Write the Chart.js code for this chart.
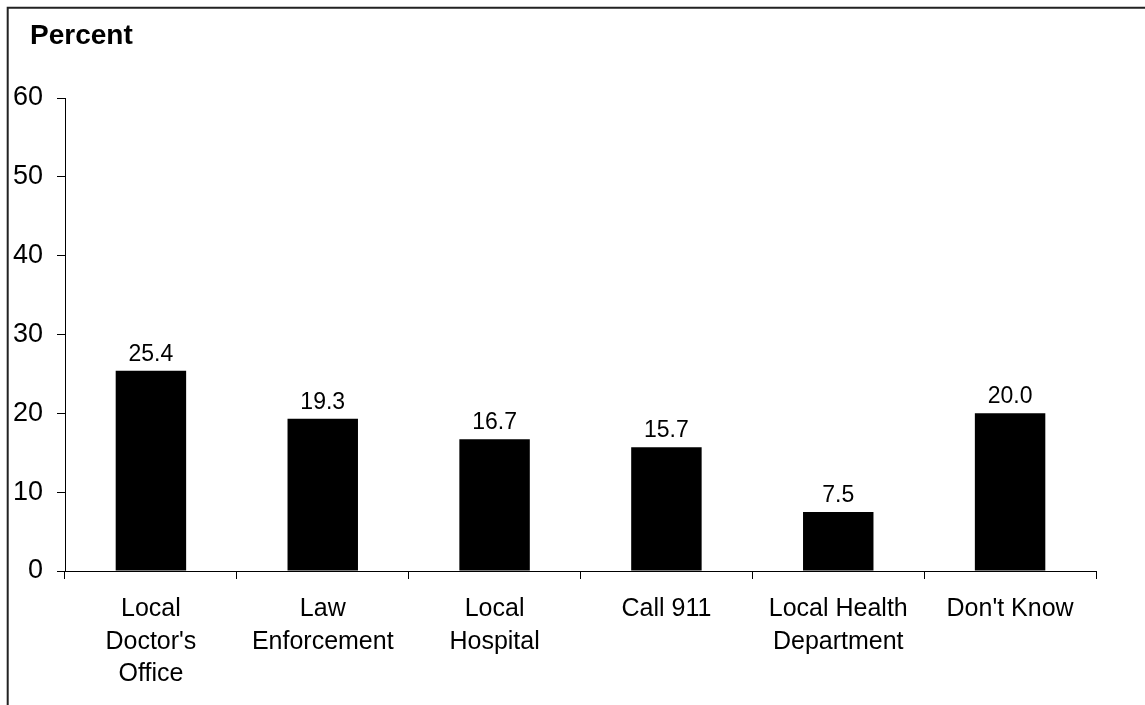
<!DOCTYPE html>
<html>
<head>
<meta charset="utf-8">
<script src="https://cdn.jsdelivr.net/npm/chart.js@4"></script>
<style>
  html, body { margin: 0; padding: 0; background: #fff; }
  #wrap { position: relative; width: 1145px; height: 705px; }
</style>
</head>
<body>
<div id="wrap"><canvas id="c" width="1145" height="705"></canvas></div>
<script>
const categories = [
  ["Local", "Doctor's", "Office"],
  ["Law", "Enforcement"],
  ["Local", "Hospital"],
  ["Call 911"],
  ["Local Health", "Department"],
  ["Don't Know"]
];
const values = [25.4, 19.3, 16.7, 15.7, 7.5, 20.0];
const yTicks = [0, 10, 20, 30, 40, 50, 60];
const yTitle = "Percent";

const FONT = "'Liberation Sans', Arial, sans-serif";

const framePlugin = {
  id: 'frame',
  afterDraw(chart) {
    const ctx = chart.ctx;
    ctx.save();
    ctx.strokeStyle = '#222';
    ctx.lineWidth = 2;
    ctx.beginPath();
    ctx.moveTo(7.7, 705);
    ctx.lineTo(7.7, 7.7);
    ctx.lineTo(1145, 7.7);
    ctx.stroke();
    ctx.fillStyle = '#000';
    ctx.font = "bold 28px " + FONT;
    ctx.textAlign = 'left';
    ctx.textBaseline = 'alphabetic';
    ctx.fillText(yTitle, 30, 44);
    // data labels
    ctx.font = "23px " + FONT;
    ctx.textAlign = 'center';
    const meta = chart.getDatasetMeta(0);
    meta.data.forEach((bar, i) => {
      ctx.fillText(values[i].toFixed(1), bar.x, bar.y - 10);
    });
    ctx.restore();
  }
};

new Chart(document.getElementById('c'), {
  type: 'bar',
  data: {
    labels: categories,
    datasets: [{
      data: values,
      backgroundColor: '#000',
      borderWidth: 0,
      barPercentage: 0.41,
      categoryPercentage: 1.0
    }]
  },
  options: {
    responsive: false,
    animation: false,
    devicePixelRatio: 1,
    layout: { padding: { left: 0, top: 98, right: 49, bottom: 0 } },
    plugins: { legend: { display: false }, tooltip: { enabled: false } },
    scales: {
      x: {
        offset: true,
        grid: { display: true, offset: true, drawOnChartArea: false, drawTicks: true, tickLength: 8, color: '#000', lineWidth: 1 },
        border: { display: true, color: '#000', width: 1 },
        ticks: {
          color: '#000',
          font: { family: FONT, size: 25, lineHeight: 1.3 },
          padding: 14,
          maxRotation: 0,
          autoSkip: false
        },
        afterFit(scale) { scale.height = 134; }
      },
      y: {
        min: 0,
        max: 60,
        afterBuildTicks(scale) { scale.ticks = yTicks.map(v => ({ value: v })); },
        grid: { display: true, drawOnChartArea: false, drawTicks: true, tickLength: 8, color: '#000', lineWidth: 1 },
        border: { display: true, color: '#000', width: 1 },
        ticks: {
          color: '#000',
          font: { family: FONT, size: 27 },
          padding: 14
        },
        afterFit(scale) { scale.width = 65; }
      }
    }
  },
  plugins: [framePlugin]
});
</script>
</body>
</html>
